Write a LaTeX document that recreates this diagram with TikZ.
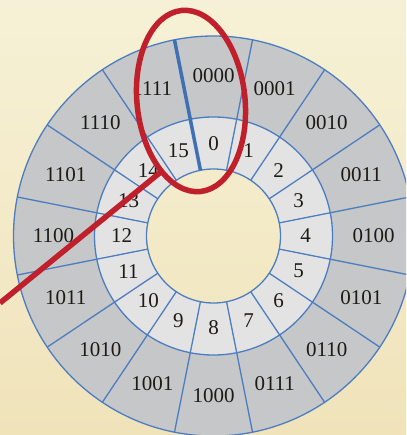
\documentclass[tikz,border=0pt]{standalone}
\usepackage{fontspec}
\setmainfont{Liberation Serif}
\usetikzlibrary{shapes.geometric}
\definecolor{bgtop}{HTML}{F6F1D6}
\definecolor{bgbot}{HTML}{F0E3BA}
\definecolor{outerfill}{HTML}{C6C7C9}
\definecolor{innerfill}{HTML}{E3E3E3}
\definecolor{ringblue}{HTML}{4C7DC0}
\definecolor{thickblue}{HTML}{3F70B3}
\definecolor{markred}{HTML}{C0202B}
\definecolor{labelink}{HTML}{1E1A14}
\begin{document}
\begin{tikzpicture}[x=1pt,y=1pt,
  ringline/.style={draw=ringblue, line width=1.3pt},
  binlabel/.style={font=\fontsize{21}{21}\selectfont, text=labelink, inner sep=0pt},
  declabel/.style={font=\fontsize{21}{21}\selectfont, text=labelink, inner sep=0pt},
  marker/.style={draw=markred, line width=5.5pt},
  boundary/.style={draw=thickblue, line width=3.5pt}]
\useasboundingbox (0,0) rectangle (406,-435);
\shade[top color=bgtop, bottom color=bgbot] (0,0) rectangle (406,-435);
\begin{scope}
\clip (0,0) rectangle (406,-435);
\coordinate (C) at (213.5,-236);
\fill[outerfill, even odd rule] (C) circle[radius=200pt] (C) circle[radius=119pt];
\fill[innerfill, even odd rule] (C) circle[radius=119pt] (C) circle[radius=67pt];
\foreach \k in {0,...,15}{
  \pgfmathsetmacro\a{101.25-22.5*\k}
  \coordinate (in\k) at ([shift={(\a:67pt)}]C);
  \coordinate (out\k) at ([shift={(\a:200pt)}]C);
  \draw[ringline] (in\k) -- (out\k);
}
\draw[ringline] (C) circle[radius=200pt] (C) circle[radius=119pt] (C) circle[radius=67pt];
\foreach \k/\b in {0/0000,1/0001,2/0010,3/0011,4/0100,5/0101,6/0110,7/0111,
                   8/1000,9/1001,10/1010,11/1011,12/1100,13/1101,14/1110,15/1111}{
  \pgfmathsetmacro\a{90-22.5*\k}
  \node[binlabel] (b\k) at ([shift={(\a:160pt)}]C) {\b};
  \node[declabel] (d\k) at ([shift={(\a:92pt)}]C) {\k};
}
\draw[boundary] (in0) -- (out0);
\coordinate (redstart) at (0,-303);
\coordinate (redend) at (162,-171);
\draw[marker] (redstart) -- (redend);
\node[marker, ellipse, minimum width=108pt, minimum height=182pt, rotate=6, inner sep=0pt] (oval) at (191,-101) {};
\end{scope}
\end{tikzpicture}
\end{document}
